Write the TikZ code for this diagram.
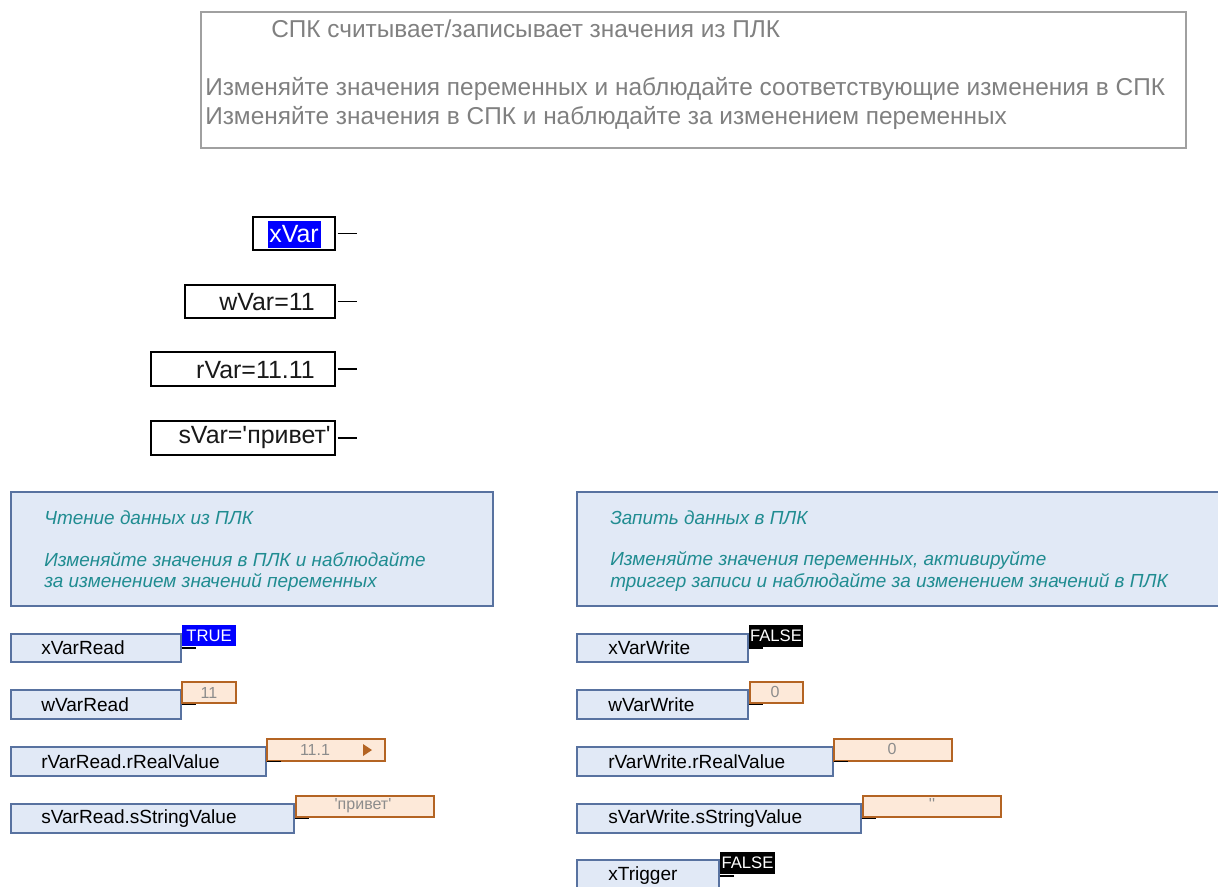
\documentclass[tikz,border=0pt]{standalone}
\usepackage{fontspec}
\setmainfont{Liberation Sans}
\usetikzlibrary{fit}
\definecolor{notegray}{RGB}{128,128,128}
\definecolor{framegray}{RGB}{160,160,160}
\definecolor{boxfill}{RGB}{225,233,246}
\definecolor{boxline}{RGB}{88,114,160}
\definecolor{noteteal}{RGB}{32,140,145}
\definecolor{valfill}{RGB}{253,233,217}
\definecolor{valline}{RGB}{180,100,35}
\definecolor{valtext}{RGB}{140,140,140}
\definecolor{hiblue}{RGB}{0,0,255}
\newcommand{\qt}{\textquotesingle}
\begin{document}
\begin{tikzpicture}[x=0.75pt,y=-0.75pt,
    frame/.style={draw=framegray, line width=1.1pt, inner sep=0pt},
    headtext/.style={anchor=west, inner sep=0pt, text=notegray, font=\fontsize{18.3}{20}\selectfont},
    varbox/.style={draw=black, line width=1pt, inner sep=0pt},
    vartext/.style={anchor=east, inner sep=0pt, font=\fontsize{18.7}{20}\selectfont, text=black!90},
    notebox/.style={draw=boxline, fill=boxfill, line width=0.8pt, inner sep=0pt},
    notetext/.style={anchor=west, inner sep=0pt, text=noteteal, font=\fontsize{14.2}{16}\selectfont\itshape},
    namebox/.style={draw=boxline, fill=boxfill, line width=0.8pt, inner sep=0pt},
    nametext/.style={anchor=west, inner sep=0pt, font=\fontsize{14.3}{16}\selectfont},
    valbox/.style={draw=valline, fill=valfill, line width=0.8pt, inner sep=0pt},
    valtxt/.style={inner sep=0pt, text=valtext, font=\fontsize{12}{14}\selectfont},
    boolbox/.style={inner sep=0pt, text=white, font=\fontsize{12.5}{14}\selectfont},
    stub/.style={line width=0.8pt},
    varstub/.style={line width=1pt}]
    \useasboundingbox (0,0) rectangle (1218,886);

    %header note
    \node[frame, fit={(201,12) (1186,148)}] (head) {};
    \node[headtext] (headA) at (271,29) {СПК считывает/записывает значения из ПЛК};
    \node[headtext] (headB) at (205,89) {Изменяйте значения переменных и наблюдайте соответствующие изменения в СПК};
    \node[headtext] (headC) at (205,118) {Изменяйте значения в СПК и наблюдайте за изменением переменных};

    %visualisation elements
    \node[varbox, fit={(253,217) (335,250)}] (xv) {};
    \node[fill=hiblue, text=white, inner sep=0pt, minimum width=53*0.75pt, minimum height=27*0.75pt, font=\fontsize{18.7}{20}\selectfont] (xvt) at (294,234) {xVar};
    \draw[varstub] ([xshift=1.5pt]xv.east) -- ++(19,0);

    \node[varbox, fit={(185,285) (335,318)}] (wv) {};
    \node[vartext] (wvt) at (315,302) {wVar=11};
    \draw[varstub] ([xshift=1.5pt]wv.east) -- ++(19,0);

    \node[varbox, fit={(151,352) (335,386)}] (rv) {};
    \node[vartext] (rvt) at (315,370) {rVar=11.11};
    \draw[varstub] ([xshift=1.5pt]rv.east) -- ++(19,0);

    \node[varbox, fit={(151,421) (335,455)}] (sv) {};
    \node[vartext] (svt) at (331,438) {sVar=\qt привет\qt};
    \draw[varstub] ([xshift=1.5pt]sv.east) -- ++(19,0);

    %comments
    \node[notebox, fit={(11,492) (493,606)}] (readnote) {};
    \node[notetext] (readA) at (44,518) {Чтение данных из ПЛК};
    \node[notetext] (readB) at (44,560) {Изменяйте значения в ПЛК и наблюдайте};
    \node[notetext] (readC) at (44,582) {за изменением значений переменных};

    \node[notebox, fit={(577,492) (1220,606)}] (writenote) {};
    \node[notetext] (writeA) at (610,518) {Запить данных в ПЛК};
    \node[notetext] (writeB) at (610,560) {Изменяйте значения переменных, активируйте};
    \node[notetext] (writeC) at (610,582) {триггер записи и наблюдайте за изменением значений в ПЛК};

    %read column
    \node[namebox, fit={(11,634) (181,662)}] (xr) {};
    \node[nametext] (xrl) at (41,648) {xVarRead};
    \node[boolbox, fill=hiblue, fit={(182,625) (236,646)}] (xrv) {};
    \node[boolbox] (xrvt) at (xrv.center) {TRUE};
    \draw[stub] (xr.east) -- ++(14,0);

    \node[namebox, fit={(11,690) (181,719)}] (wr) {};
    \node[nametext] (wrl) at (41,705) {wVarRead};
    \node[valbox, fit={(182,682) (236,703)}] (wrv) {};
    \node[valtxt] (wrvt) at (wrv.center) {11};
    \draw[stub] (wr.east) -- ++(14,0);

    \node[namebox, fit={(11,747) (266,776)}] (rr) {};
    \node[nametext] (rrl) at (41,762) {rVarRead.rRealValue};
    \node[valbox, fit={(267,739) (385,761)}] (rrv) {};
    \node[valtxt] (rrvt) at (315,750) {11.1};
    \fill[valline] (363,744) -- (372,750) -- (363,756) -- cycle;
    \draw[stub] (rr.east) -- ++(14,0);

    \node[namebox, fit={(11,804) (294,833)}] (sr) {};
    \node[nametext] (srl) at (41,819) {sVarRead.sStringValue};
    \node[valbox, fit={(296,796) (434,817)}] (srv) {};
    \node[valtxt] (srvt) at (363,806) {\qt привет\qt};
    \draw[stub] (sr.east) -- ++(14,0);

    %write column
    \node[namebox, fit={(577,634) (748,662)}] (xw) {};
    \node[nametext] (xwl) at (608,648) {xVarWrite};
    \node[boolbox, fill=black, fit={(749,625) (803,647)}] (xwv) {};
    \node[boolbox] (xwvt) at (xwv.center) {FALSE};
    \draw[stub] (xw.east) -- ++(14,0);

    \node[namebox, fit={(577,690) (748,719)}] (ww) {};
    \node[nametext] (wwl) at (608,705) {wVarWrite};
    \node[valbox, fit={(750,682) (803,703)}] (wwv) {};
    \node[valtxt] (wwvt) at (775,692) {0};
    \draw[stub] (ww.east) -- ++(14,0);

    \node[namebox, fit={(577,747) (833,776)}] (rw) {};
    \node[nametext] (rwl) at (608,762) {rVarWrite.rRealValue};
    \node[valbox, fit={(834,739) (952,761)}] (rwv) {};
    \node[valtxt] (rwvt) at (892,749) {0};
    \draw[stub] (rw.east) -- ++(14,0);

    \node[namebox, fit={(577,804) (861,833)}] (sw) {};
    \node[nametext] (swl) at (608,819) {sVarWrite.sStringValue};
    \node[valbox, fit={(863,796) (1001,817)}] (swv) {};
    \node[valtxt] (swvt) at (932,804) {\qt\qt};
    \draw[stub] (sw.east) -- ++(14,0);

    \node[namebox, fit={(577,860) (719,892)}] (tw) {};
    \node[nametext] (twl) at (608,876) {xTrigger};
    \node[boolbox, fill=black, fit={(720,852) (775,874)}] (twv) {};
    \node[boolbox] (twvt) at (twv.center) {FALSE};
    \draw[stub] (tw.east) -- ++(14,0);
\end{tikzpicture}
\end{document}
